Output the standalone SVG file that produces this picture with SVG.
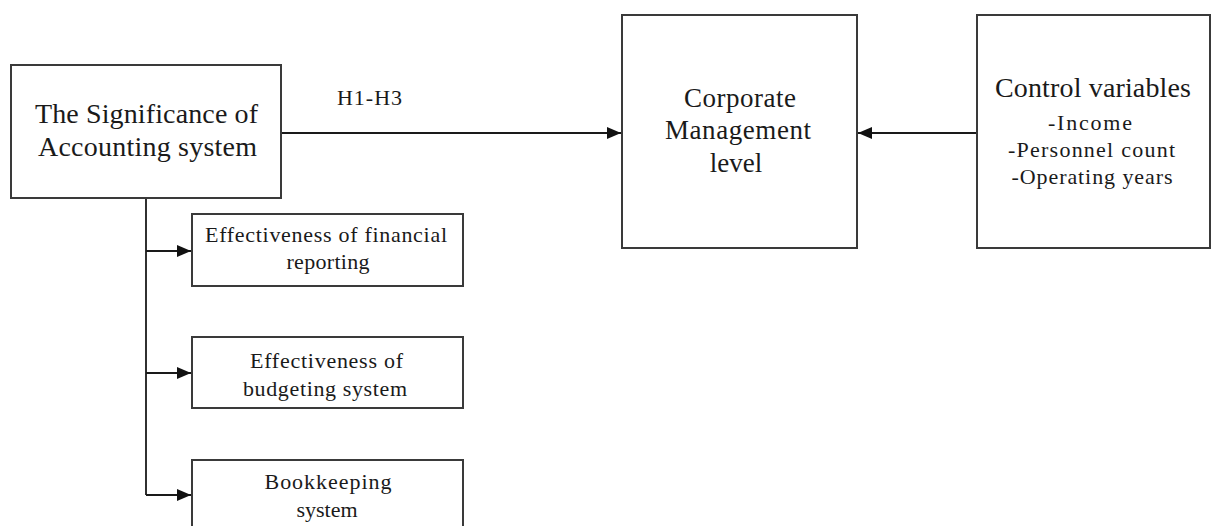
<svg xmlns="http://www.w3.org/2000/svg" width="1214" height="526" viewBox="0 0 1214 526">
<style>
.box{fill:#fff;stroke:#3a3a3a;stroke-width:2}
.ln{fill:none;stroke:#1a1a1a;stroke-width:1.8}
text{font-family:'Liberation Serif','Times New Roman',serif;fill:#1a1a1a;text-anchor:middle}
.big{font-size:28px}
.mid{font-size:27px}
.sm{font-size:22px}
</style>
<defs>
<marker id="ah" viewBox="0 0 14 12" refX="14" refY="6" markerWidth="14" markerHeight="12" markerUnits="userSpaceOnUse" orient="auto">
<path d="M0,0 L14,6 L0,12 Z" fill="#111"/>
</marker>
</defs>
<rect width="1214" height="526" fill="#fff"/>
<g id="connectors">
<line class="ln" x1="281" y1="133" x2="621" y2="133" marker-end="url(#ah)"/>
<line class="ln" x1="977" y1="133" x2="858" y2="133" marker-end="url(#ah)"/>
<polyline class="ln" points="146,198 146,495"/>
<line class="ln" x1="146" y1="251" x2="191" y2="251" marker-end="url(#ah)"/>
<line class="ln" x1="146" y1="373" x2="191" y2="373" marker-end="url(#ah)"/>
<line class="ln" x1="146" y1="495" x2="191" y2="495" marker-end="url(#ah)"/>
<text class="sm" x="369.5" y="105" textLength="65" lengthAdjust="spacing">H1-H3</text>
</g>
<g id="accounting">
<rect class="box" x="11" y="65" width="270" height="133"/>
<text class="big" x="146.5" y="123" textLength="223" lengthAdjust="spacing">The Significance of</text>
<text class="big" x="147.5" y="156" textLength="219" lengthAdjust="spacing">Accounting system</text>
</g>
<g id="corporate">
<rect class="box" x="622" y="15" width="235" height="233"/>
<text class="mid" x="740" y="107" textLength="112" lengthAdjust="spacing">Corporate</text>
<text class="mid" x="738" y="139" textLength="146" lengthAdjust="spacing">Management</text>
<text class="mid" x="736" y="172">level</text>
</g>
<g id="control">
<rect class="box" x="977" y="15" width="233" height="233"/>
<text class="big" x="1093" y="97" textLength="196" lengthAdjust="spacing">Control variables</text>
<text class="sm" x="1090" y="130" textLength="84" lengthAdjust="spacing">-Income</text>
<text class="sm" x="1091.5" y="157" textLength="167" lengthAdjust="spacing">-Personnel count</text>
<text class="sm" x="1092" y="184" textLength="161" lengthAdjust="spacing">-Operating years</text>
</g>
<g id="financial">
<rect class="box" x="192" y="214" width="271" height="72"/>
<text class="sm" x="326" y="242" textLength="242" lengthAdjust="spacing">Effectiveness of financial</text>
<text class="sm" x="328" y="269" textLength="83" lengthAdjust="spacing">reporting</text>
</g>
<g id="budgeting">
<rect class="box" x="192" y="337" width="271" height="71"/>
<text class="sm" x="326.5" y="368" textLength="153" lengthAdjust="spacing">Effectiveness of</text>
<text class="sm" x="325" y="396" textLength="164" lengthAdjust="spacing">budgeting system</text>
</g>
<g id="bookkeeping">
<rect class="box" x="192" y="460" width="271" height="72"/>
<text class="sm" x="328" y="489" textLength="127" lengthAdjust="spacing">Bookkeeping</text>
<text class="sm" x="327" y="517" textLength="61" lengthAdjust="spacing">system</text>
</g>
</svg>
